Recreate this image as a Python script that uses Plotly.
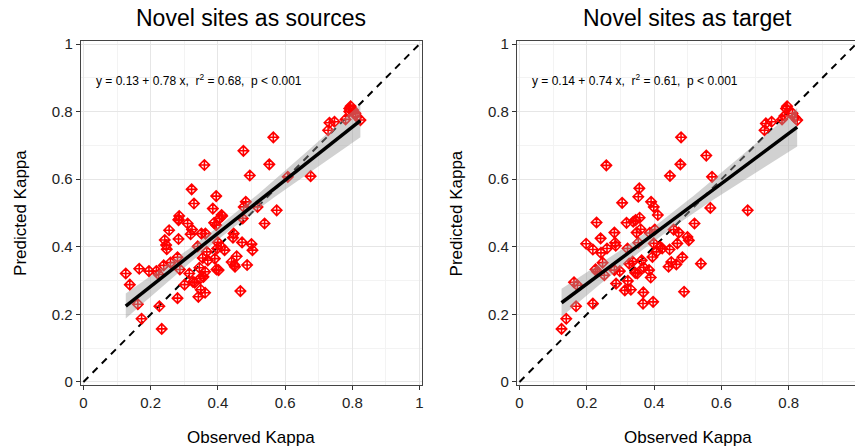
import numpy as np
import plotly.graph_objects as go

# ---- data: Novel sites as sources ----
src_obs = [0.126, 0.138, 0.166, 0.162, 0.173, 0.195, 0.217, 0.226, 0.233, 0.224,
           0.239, 0.242, 0.246, 0.248, 0.255, 0.259, 0.280, 0.283, 0.283, 0.285,
           0.280, 0.287, 0.301, 0.310, 0.319, 0.323, 0.322, 0.329, 0.315, 0.326,
           0.331, 0.340, 0.342, 0.345, 0.347, 0.349, 0.351, 0.355, 0.360, 0.363,
           0.362, 0.362, 0.367, 0.357, 0.370, 0.385, 0.389, 0.391, 0.395, 0.395,
           0.396, 0.400, 0.402, 0.405, 0.410, 0.413, 0.420, 0.398, 0.441, 0.445,
           0.447, 0.449, 0.451, 0.456, 0.467, 0.472, 0.476, 0.474, 0.483, 0.477,
           0.487, 0.495, 0.500, 0.503, 0.518, 0.539, 0.553, 0.565, 0.575, 0.676,
           0.608, 0.728, 0.732, 0.747, 0.780, 0.791, 0.795, 0.791, 0.809, 0.814,
           0.824, 0.802, 0.411, 0.283]
src_pred = [0.321, 0.288, 0.335, 0.230, 0.187, 0.328, 0.328, 0.224, 0.157, 0.318,
            0.345, 0.420, 0.405, 0.393, 0.449, 0.353, 0.369, 0.423, 0.481, 0.491,
            0.248, 0.333, 0.288, 0.469, 0.437, 0.451, 0.570, 0.528, 0.321, 0.296,
            0.294, 0.401, 0.252, 0.338, 0.306, 0.273, 0.439, 0.367, 0.642, 0.439,
            0.264, 0.326, 0.385, 0.311, 0.360, 0.513, 0.471, 0.365, 0.550, 0.464,
            0.333, 0.413, 0.331, 0.484, 0.400, 0.491, 0.390, 0.395, 0.355, 0.427,
            0.439, 0.346, 0.341, 0.372, 0.269, 0.413, 0.684, 0.484, 0.533, 0.518,
            0.346, 0.611, 0.408, 0.390, 0.518, 0.469, 0.644, 0.724, 0.508, 0.609,
            0.607, 0.745, 0.767, 0.770, 0.777, 0.809, 0.816, 0.800, 0.795, 0.785,
            0.775, 0.805, 0.494, 0.479]

# ---- data: Novel sites as target ----
tgt_obs = [0.125, 0.139, 0.162, 0.172, 0.168, 0.198, 0.218, 0.218, 0.226, 0.229,
           0.231, 0.241, 0.242, 0.247, 0.252, 0.258, 0.260, 0.282, 0.284, 0.286,
           0.282, 0.287, 0.298, 0.305, 0.313, 0.318, 0.321, 0.326, 0.322, 0.331,
           0.336, 0.338, 0.344, 0.345, 0.348, 0.350, 0.353, 0.356, 0.357, 0.353,
           0.360, 0.363, 0.367, 0.368, 0.369, 0.385, 0.387, 0.390, 0.391, 0.395,
           0.399, 0.399, 0.397, 0.402, 0.407, 0.411, 0.418, 0.424, 0.443, 0.446,
           0.447, 0.451, 0.458, 0.466, 0.469, 0.473, 0.478, 0.480, 0.484, 0.489,
           0.499, 0.503, 0.520, 0.539, 0.555, 0.567, 0.572, 0.678, 0.728, 0.732,
           0.749, 0.780, 0.787, 0.792, 0.795, 0.811, 0.825, 0.817]
tgt_pred = [0.157, 0.187, 0.295, 0.286, 0.224, 0.409, 0.392, 0.232, 0.333, 0.472,
            0.326, 0.425, 0.382, 0.353, 0.316, 0.641, 0.395, 0.442, 0.412, 0.403,
            0.331, 0.291, 0.328, 0.530, 0.271, 0.471, 0.395, 0.350, 0.299, 0.273,
            0.356, 0.474, 0.323, 0.479, 0.442, 0.321, 0.548, 0.573, 0.486, 0.412,
            0.452, 0.360, 0.232, 0.265, 0.339, 0.331, 0.441, 0.309, 0.533, 0.370,
            0.518, 0.410, 0.237, 0.451, 0.385, 0.494, 0.400, 0.395, 0.341, 0.392,
            0.610, 0.355, 0.451, 0.348, 0.410, 0.442, 0.644, 0.724, 0.369, 0.267,
            0.429, 0.419, 0.469, 0.350, 0.670, 0.515, 0.607, 0.508, 0.745, 0.765,
            0.770, 0.777, 0.787, 0.809, 0.816, 0.795, 0.775, 0.783]

titles = ["Novel sites as sources", "Novel sites as target"]
equations = ["y = 0.13 + 0.78 x,  r<sup>2</sup> = 0.68,  p < 0.001",
             "y = 0.14 + 0.74 x,  r<sup>2</sup> = 0.61,  p < 0.001"]
tick_vals = [0, 0.2, 0.4, 0.6, 0.8, 1]
tick_text = ["0", "0.2", "0.4", "0.6", "0.8", "1"]
x_label = "Observed Kappa"
y_label = "Predicted Kappa"

W, H = 856, 447
fig = go.Figure()

def fit_band(x, y):
    x = np.asarray(x); y = np.asarray(y)
    n = len(x)
    b1, b0 = np.polyfit(x, y, 1)
    res = y - (b0 + b1 * x)
    s = np.sqrt(np.sum(res ** 2) / (n - 2))
    xs = np.linspace(x.min(), x.max(), 80)
    yh = b0 + b1 * xs
    se = s * np.sqrt(1 / n + (xs - x.mean()) ** 2 / np.sum((x - x.mean()) ** 2))
    t = 1.986
    return xs, yh, yh - t * se, yh + t * se

panels = [(src_obs, src_pred, "x", "y"), (tgt_obs, tgt_pred, "x2", "y2")]
for (xo, yp, xa, ya) in panels:
    fig.add_trace(go.Scatter(x=[0, 1], y=[0, 1], mode="lines", xaxis=xa, yaxis=ya,
                             line=dict(color="black", width=2, dash="7px,6px"),
                             showlegend=False, hoverinfo="skip"))
    fig.add_trace(go.Scatter(x=xo, y=yp, mode="markers", xaxis=xa, yaxis=ya,
                             marker=dict(symbol="diamond-cross-open", size=8,
                                         color="#ff0000", line=dict(width=1.6, color="#ff0000")),
                             showlegend=False))
    xs, yh, lo, hi = fit_band(xo, yp)
    fig.add_trace(go.Scatter(x=np.concatenate([xs, xs[::-1]]),
                             y=np.concatenate([hi, lo[::-1]]),
                             mode="lines", fill="toself", fillcolor="rgba(153,153,153,0.45)",
                             line=dict(width=0), xaxis=xa, yaxis=ya,
                             showlegend=False, hoverinfo="skip"))
    fig.add_trace(go.Scatter(x=xs, y=yh, mode="lines", xaxis=xa, yaxis=ya,
                             line=dict(color="black", width=3.5),
                             showlegend=False, hoverinfo="skip"))

tickfont = dict(family="Liberation Sans, Arial", size=15, color="#222")
common_axis = dict(tickvals=tick_vals, ticktext=tick_text, tickfont=tickfont,
                   ticks="outside", ticklen=4, tickcolor="#333", tickwidth=1,
                   showline=True, linecolor="#444", linewidth=1,
                   showgrid=True, gridcolor="#e6e6e6", gridwidth=1,
                   minor=dict(dtick=0.1, showgrid=True, gridcolor="#f3f3f3", gridwidth=0.6, ticks=""),
                   zeroline=False)

l1, r1 = 79 / W, 421.7 / W
l2, r2 = 516.7 / W, 1.0
fig.update_layout(
    width=W, height=H, margin=dict(l=0, r=0, t=41, b=62),
    plot_bgcolor="white", paper_bgcolor="white",
    xaxis=dict(domain=[l1, r1], range=[-0.008, 1.008], mirror=True, anchor="y", **common_axis),
    yaxis=dict(domain=[0, 1], range=[-0.009, 1.009], mirror=True, anchor="x", **common_axis),
    xaxis2=dict(domain=[l2, r2], range=[-0.0077, 0.9968], mirror=True, anchor="y2", **common_axis),
    yaxis2=dict(domain=[0, 1], range=[-0.009, 1.009], mirror=False, anchor="x2", **common_axis),
)

ph = H - 41 - 62
def py(pix):
    return (H - 62 - pix) / ph

anns = []
for i, (cx, ylx, xa, ya) in enumerate([((79 + 421.7) / 2, 18, "x", "y"), (688, 456, "x2", "y2")]):
    anns.append(dict(text=titles[i], x=cx / W, y=py(18), xref="paper", yref="paper",
                     showarrow=False, font=dict(family="Liberation Sans, Arial", size=23, color="black"),
                     xanchor="center", yanchor="middle"))
    anns.append(dict(text=x_label, x=cx / W, y=py(437), xref="paper", yref="paper",
                     showarrow=False, font=dict(family="Liberation Sans, Arial", size=17, color="black"),
                     xanchor="center", yanchor="middle"))
    anns.append(dict(text=y_label, x=ylx / W, y=py(213), xref="paper", yref="paper",
                     showarrow=False, textangle=-90,
                     font=dict(family="Liberation Sans, Arial", size=17, color="black"),
                     xanchor="center", yanchor="middle"))
    anns.append(dict(text=equations[i], x=0.031, y=0.895, xref=xa, yref=ya,
                     showarrow=False, font=dict(family="Liberation Sans, Arial", size=12, color="black"),
                     xanchor="left", yanchor="middle"))
fig.update_layout(annotations=anns)

fig.write_html("out.html")
